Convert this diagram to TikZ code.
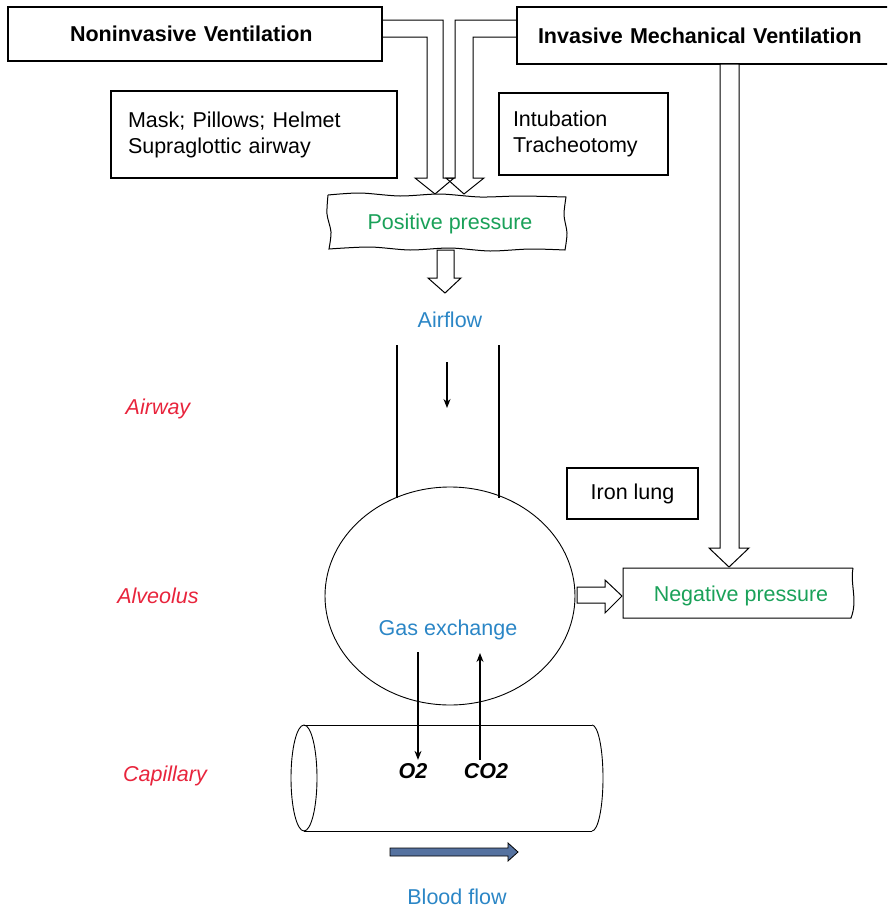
\documentclass[tikz,border=0pt]{standalone}
\usepackage{fontspec}
\setmainfont{Liberation Sans}
\usetikzlibrary{arrows.meta}

\definecolor{pressgreen}{HTML}{1AA159}
\definecolor{flowblue}{HTML}{2B86C6}
\definecolor{sitered}{HTML}{E8243C}
\definecolor{bloodarrow}{HTML}{5572A0}

\newcommand{\labelfont}{\fontsize{21.5}{26}\selectfont}

\tikzset{
  box/.style={draw, line width=1.1pt, inner sep=0pt},
  site/.style={text=sitered, font=\labelfont\itshape},
  gaslabel/.style={font=\labelfont\bfseries\itshape},
  thinarrow/.style={line width=1.1pt, -{Stealth[length=9pt, width=7pt]}},
  hollow/.style={draw, line width=1pt, fill=white, line join=miter}
}

\begin{document}
\begin{tikzpicture}[x=1pt, y=-1pt, font=\labelfont]
\useasboundingbox (0,0) rectangle (887,908);

% Ventilation modes
\node[box, minimum width=374, minimum height=54, font=\labelfont\bfseries, text width=250, align=left, inner xsep=62]
  (niv) at (195,34) {Noninvasive Ventilation};
\begin{scope}
\clip (0,0) rectangle (887,908);
\node[box, minimum width=376, minimum height=57, font=\labelfont\bfseries, text width=334, align=left, inner xsep=21]
  (imv) at (705,35.5) {Invasive Mechanical Ventilation};
\end{scope}

% Interfaces
\node[box, minimum width=286, minimum height=87, text width=252, align=left]
  (mask) at (254,134.5) {Mask; Pillows; Helmet\\Supraglottic airway};
\node[box, minimum width=169, minimum height=82, text width=141, align=left]
  (tube) at (583.5,134) {Intubation\\Tracheotomy};
\node[box, minimum width=131, minimum height=51] (iron) at (632.5,493.5) {Iron lung};

% Bent hollow arrows into positive pressure
\draw[hollow, fill=none] (382,20) -- (443,20) -- (443,178) -- (454,178) -- (435,194)
  -- (415,178) -- (427,178) -- (427,37) -- (382,37);
\draw[hollow, fill=none] (517,20) -- (455,20) -- (455,178) -- (446,178) -- (464,194)
  -- (484,178) -- (473,178) -- (473,37) -- (517,37);

% Positive pressure (wavy box)
\draw[line width=1pt, fill=white] plot[smooth] coordinates {(328,195) (360,193) (400,196) (440,194) (480,197) (520,196) (566,197)}
  -- plot[smooth] coordinates {(566,197) (564,215) (567,233) (565,250)}
  -- plot[smooth] coordinates {(565,250) (530,249) (490,251) (450,248) (410,250) (370,247) (329,249)}
  -- plot[smooth] coordinates {(329,249) (331,232) (327,214) (328,195)};
\node[text=pressgreen] (pos) at (450,224) {Positive pressure};

% Positive pressure to airflow
\draw[hollow] (437,250) -- (454,250) -- (454,278) -- (461,278) -- (445,293)
  -- (428,278) -- (437,278) -- cycle;
\node[text=flowblue] (airflow) at (450,320) {Airflow};

% Airway tube
\draw[line width=1.1pt] (397,345) -- (397,498);
\draw[line width=1.1pt] (499,345) -- (499,498);
\coordinate (flowtop) at (447,362);
\coordinate (flowbot) at (447,408);
\draw[thinarrow] (flowtop) -- (flowbot);

% Alveolus
\draw[line width=0.9pt] (450,596) ellipse [x radius=125, y radius=109];
\node[text=flowblue] (gas) at (448,630) {Gas exchange};

% Right hollow arrow down to negative pressure
\draw[hollow] (720,64) -- (739,64) -- (739,548) -- (749,548) -- (729,567)
  -- (709,548) -- (720,548) -- cycle;

% Negative pressure box
\draw[line width=1pt] (853,568) -- (623,568) -- (623,618) -- (851,618)
  .. controls (858,600) and (850,585) .. (853,568);
\node[text=pressgreen] (neg) at (741,596) {Negative pressure};

% Alveolus to negative pressure
\draw[hollow] (577,587) -- (605,587) -- (605,580) -- (622,596) -- (605,613)
  -- (605,603) -- (577,603) -- cycle;

% Capillary
\draw[line width=0.9pt] (304,725) -- (592,725);
\draw[line width=0.9pt] (304,831) -- (592,831);
\draw[line width=0.9pt] (304,778) ellipse [x radius=13, y radius=53];
\draw[line width=0.9pt] (592,725) arc [start angle=-90, end angle=90, x radius=11, y radius=53];

% Gas exchange arrows
\node[gaslabel] (otwo) at (413,771) {O2};
\node[gaslabel] (cotwo) at (486,771) {CO2};
\draw[thinarrow] (418,652) -- (otwo.north -| 418,0);
\draw[thinarrow] (cotwo.north -| 480,0) -- (480,653);

% Blood flow
\draw[line width=0.8pt, fill=bloodarrow] (390,848) -- (508,848) -- (508,843) -- (518,852)
  -- (508,861) -- (508,856) -- (390,856) -- cycle;
\node[text=flowblue] (blood) at (457,897) {Blood flow};

% Site labels
\node[site] (airway) at (158,409) {Airway};
\node[site] (alveolus) at (158,596) {Alveolus};
\node[site] (capillary) at (165,776) {Capillary};

\end{tikzpicture}
\end{document}
